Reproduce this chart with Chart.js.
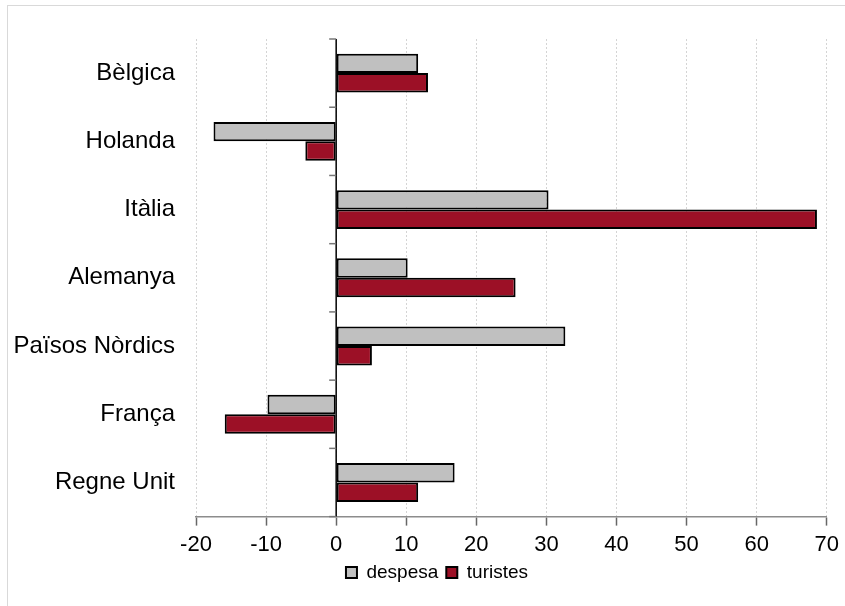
<!DOCTYPE html>
<html>
<head>
<meta charset="utf-8">
<script src="https://cdn.jsdelivr.net/npm/chart.js@4.4.1/dist/chart.umd.min.js"></script>
<style>
  html, body { margin: 0; padding: 0; background: #fff; overflow: hidden; }
  #frame { position: absolute; left: 7px; top: 5px; width: 850px; height: 620px; border: 1px solid #d9d9d9; box-sizing: border-box; }
  #wrap { position: absolute; left: 0; top: 0; width: 845px; height: 606px; }
</style>
</head>
<body>
<div id="frame"></div>
<div id="wrap"><canvas id="chart"></canvas></div>
<script>
const categories = ["Bèlgica", "Holanda", "Itàlia", "Alemanya", "Països Nòrdics", "França", "Regne Unit"];
const despesa = [11.7, -17.5, 30.3, 10.2, 32.7, -9.8, 16.9];
const turistes = [13.1, -4.4, 68.6, 25.6, 5.1, -15.9, 11.7];
const xTicks = [-20, -10, 0, 10, 20, 30, 40, 50, 60, 70];

const FONT = "'Liberation Sans', Arial, sans-serif";

// zero line with small category ticks on its left
const zeroLine = {
    id: "zeroLine",
    afterDatasetsDraw(chart) {
        const { ctx, scales: { x, y } } = chart;
        const x0 = x.getPixelForValue(0);
        ctx.save();
        ctx.strokeStyle = "#000";
        ctx.lineWidth = 1.5;
        ctx.beginPath();
        ctx.moveTo(x0, y.top);
        ctx.lineTo(x0, y.bottom);
        ctx.stroke();
        ctx.strokeStyle = "#777";
        ctx.lineWidth = 1.5;
        for (let i = 0; i <= categories.length; i++) {
            const py = y.getPixelForValue(i - 0.5);
            ctx.beginPath();
            ctx.moveTo(x0 - 7, py);
            ctx.lineTo(x0, py);
            ctx.stroke();
        }
        ctx.restore();
    },
};

// legend sits a bit right of centre and close under the axis labels
const legendShift = {
    id: "legendShift",
    afterLayout(chart) {
        const lg = chart.legend;
        lg.left = 46;
        lg.top -= 9;
        lg.bottom -= 9;
    },
};

new Chart(document.getElementById("chart"), {
    type: "bar",
    data: {
        labels: categories,
        datasets: [
            {
                label: "despesa",
                data: despesa,
                backgroundColor: "#c0c0c0",
                borderColor: "#000",
                borderWidth: 2,
                borderSkipped: false,
            },
            {
                label: "turistes",
                data: turistes,
                backgroundColor: "#9c1026",
                borderColor: "#000",
                borderWidth: 2,
                borderSkipped: false,
            },
        ],
    },
    options: {
        indexAxis: "y",
        responsive: true,
        maintainAspectRatio: false,
        animation: false,
        categoryPercentage: 0.57,
        barPercentage: 1,
        layout: {
            padding: { top: 39, right: 17, left: 0, bottom: 5 },
        },
        scales: {
            x: {
                min: -20,
                max: 70,
                afterBuildTicks: (scale) => {
                    scale.ticks = xTicks.map((v) => ({ value: v }));
                },
                grid: {
                    color: "#d4d4d4",
                    lineWidth: 1,
                    drawTicks: true,
                    tickLength: 9,
                    tickColor: "#666",
                    tickWidth: 1.5,
                },
                border: {
                    display: true,
                    color: "#8c8c8c",
                    width: 1.5,
                    dash: [2, 2],
                },
                ticks: {
                    color: "#000",
                    padding: 6,
                    maxRotation: 0,
                    font: { family: FONT, size: 22 },
                },
            },
            y: {
                afterFit: (scale) => {
                    scale.width = 196;
                },
                grid: { display: false, drawTicks: false },
                border: { display: false },
                ticks: {
                    color: "#000",
                    padding: 21,
                    font: { family: FONT, size: 24 },
                },
            },
        },
        plugins: {
            legend: {
                position: "bottom",
                labels: {
                    color: "#000",
                    boxWidth: 11,
                    boxHeight: 11,
                    padding: 8,
                    font: { family: FONT, size: 19 },
                },
            },
            tooltip: { enabled: false },
        },
    },
    plugins: [zeroLine, legendShift],
});
</script>
</body>
</html>
